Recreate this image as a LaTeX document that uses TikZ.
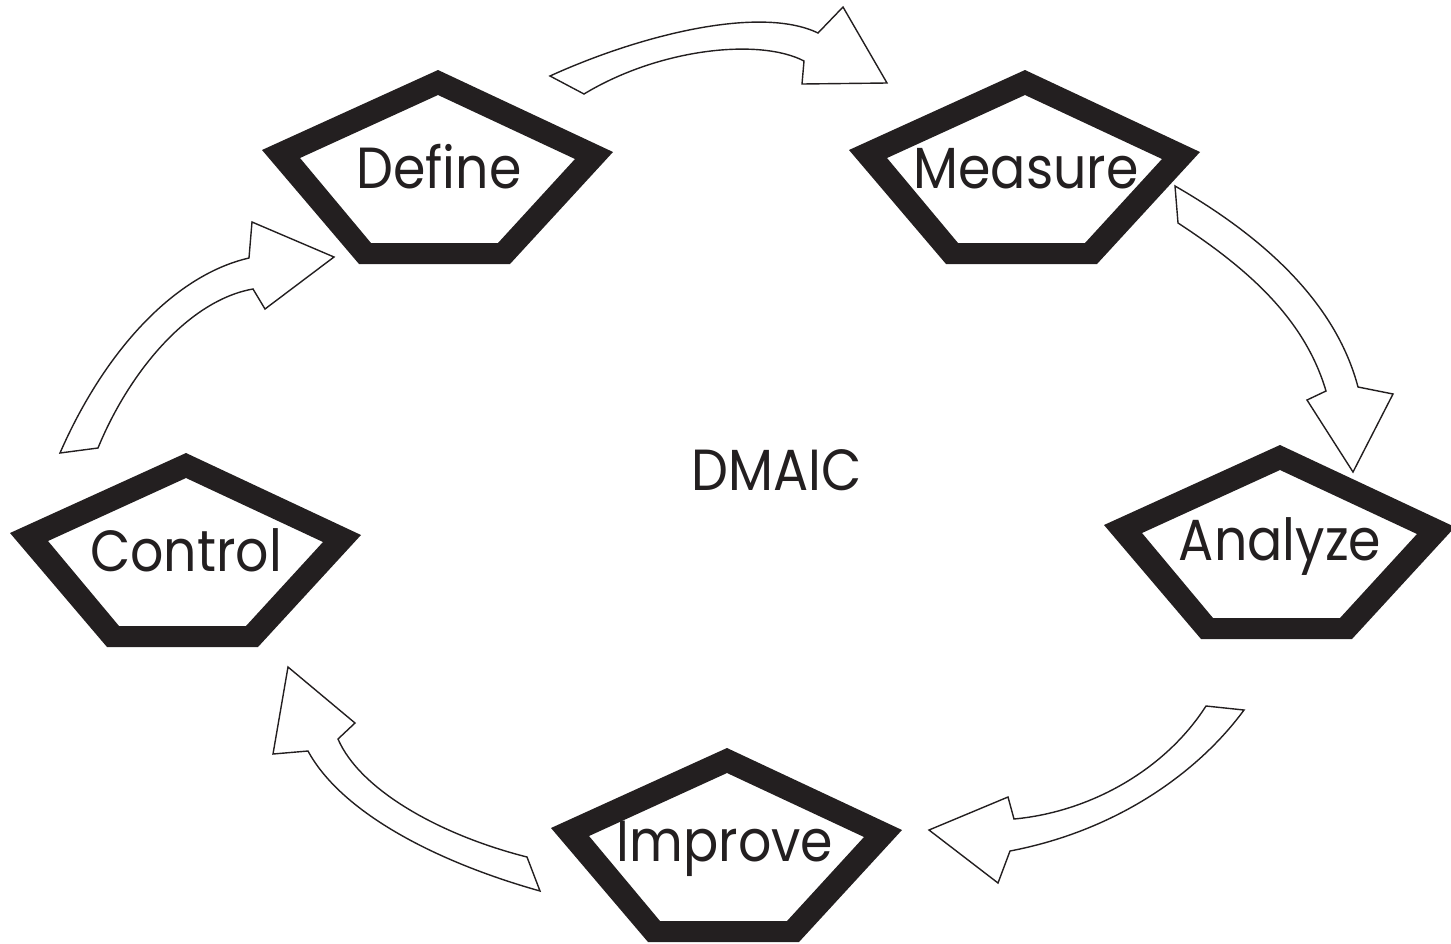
\documentclass[tikz,border=0pt]{standalone}
\usepackage{fontspec}
\newfontfamily\stepfont{Poppins}[FakeStretch=0.9]
\definecolor{ink}{HTML}{231F20}
\begin{document}
\begin{tikzpicture}[x=0.5pt,y=-0.5pt,
  phase/.pic={
    \fill[ink,even odd rule]
      (0,0) -- (175,82) -- (72,194) -- (-79,194) -- (-176,80) -- cycle
      (0,25) -- (137,89) -- (60,173) -- (-67,173) -- (-138,88) -- cycle;
  },
  steplabel/.style={anchor=base,inner sep=0pt,text=ink,
    font=\stepfont\fontsize{29pt}{29pt}\selectfont},
  blockarrow/.style={draw=ink,fill=white,line width=0.7pt,line join=miter}]
\useasboundingbox (0,0) rectangle (1451,943);

% phase pentagons, placed by their top corner
\pic at (438,70)   {phase};
\pic at (1025,70)  {phase};
\pic at (1280,445) {phase};
\pic at (727,748)  {phase};
\pic at (186,453)  {phase};

% phase names
\node[steplabel] (define)  at (439,188)  {Define};
\node[steplabel] (measure) at (1026,188) {Measure};
\node[steplabel] (analyze) at (1280,560) {Analyze};
\node[steplabel] (improve) at (725,861)  {Improve};
\node[steplabel] (control) at (186,571)  {Control};
\node[steplabel] (dmaic)   at (777,490)  {DMAIC};

% curved block arrows between the phases
\draw[blockarrow] (550,76) .. controls (640,35) and (760,5) .. (818,33)
  -- (843,7) -- (887,83) -- (802,84) -- (804,61)
  .. controls (760,38) and (660,48) .. (584,94) -- cycle;
\draw[blockarrow] (1175,186) .. controls (1260,235) and (1335,300) .. (1358,387)
  -- (1393,394) -- (1353,472) -- (1307,400) -- (1326,391)
  .. controls (1305,320) and (1250,270) .. (1178,223) -- cycle;
\draw[blockarrow] (1244,710) .. controls (1200,770) and (1120,830) .. (1010,851)
  -- (998,883) -- (929,830) -- (1008,797) -- (1014,819)
  .. controls (1090,812) and (1165,770) .. (1206,706) -- cycle;
\draw[blockarrow] (540,891) .. controls (430,860) and (340,810) .. (308,751)
  -- (273,754) -- (288,667) -- (355,723) -- (338,739)
  .. controls (360,790) and (440,835) .. (527,857) -- cycle;
\draw[blockarrow] (60,453) .. controls (105,350) and (175,275) .. (249,258)
  -- (252,222) -- (334,257) -- (265,309) -- (253,289)
  .. controls (190,300) and (130,370) .. (98,448) -- cycle;
\end{tikzpicture}
\end{document}
